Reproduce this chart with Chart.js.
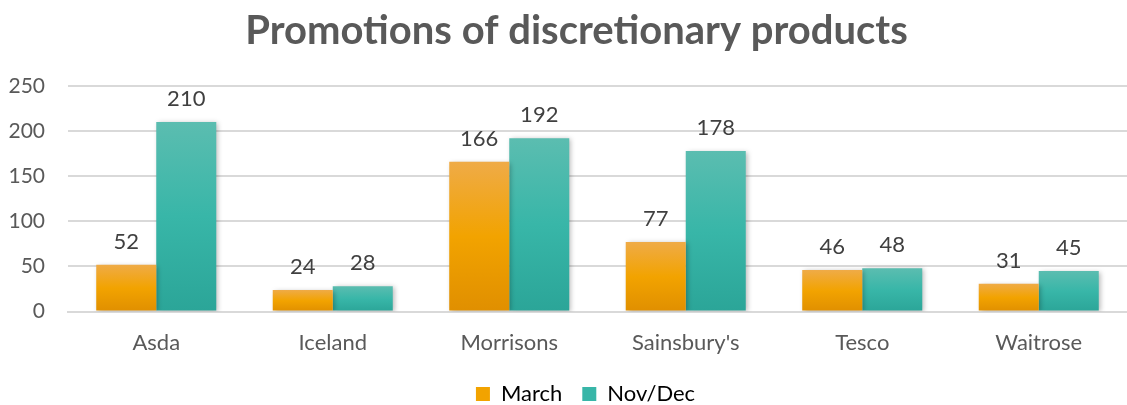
<!DOCTYPE html>
<html>
<head>
<meta charset="utf-8">
<script src="https://cdn.jsdelivr.net/npm/chart.js@4.4.1/dist/chart.umd.min.js"></script>
<style>
  html, body { margin: 0; padding: 0; background: #fff; }
  #wrap { width: 1127px; height: 405px; overflow: hidden; }
</style>
</head>
<body>
<div id="wrap"><canvas id="chart"></canvas></div>
<script>
/* ===== Promotions chart ===== */

const stores = ['Asda', 'Iceland', 'Morrisons', "Sainsbury's", 'Tesco', 'Waitrose'];
const marchValues = [52, 24, 166, 77, 46, 31];
const novDecValues = [210, 28, 192, 178, 48, 45];
const yTicks = [0, 50, 100, 150, 200, 250];

// colour stops top -> middle -> bottom
const orangeStops = ['#efab47', '#f2a300', '#e08f00'];
const tealStops = ['#5bbdb0', '#38b6a8', '#2ba598'];

function barGradient(stops) {
    return (ctx) => {
        const chart = ctx.chart;
        if (!chart.chartArea || ctx.parsed == null) return stops[1];
        const y = chart.scales.y;
        const top = y.getPixelForValue(ctx.parsed.y);
        const bottom = y.getPixelForValue(0);
        if (!(bottom > top)) return stops[1];
        const g = chart.ctx.createLinearGradient(0, top, 0, bottom);
        g.addColorStop(0, stops[0]);
        g.addColorStop(0.5, stops[1]);
        g.addColorStop(1, stops[2]);
        return g;
    };
}

// draws value above every bar
const valueLabels = {
    id: 'valueLabels',
    afterDatasetsDraw(chart) {
        const ctx = chart.ctx;
        ctx.save();
        ctx.font = '22px Lato';
        ctx.fillStyle = '#404040';
        ctx.textAlign = 'center';
        ctx.textBaseline = 'bottom';
        chart.data.datasets.forEach((ds, i) => {
            chart.getDatasetMeta(i).data.forEach((bar, j) => {
                ctx.fillText(String(ds.data[j]), bar.x, bar.y - 12);
            });
        });
        ctx.restore();
    }
};

// soft shadow behind bars
const barShadow = {
    id: 'barShadow',
    beforeDatasetsDraw(chart) {
        const ctx = chart.ctx;
        ctx.save();
        ctx.shadowColor = 'rgba(0,0,0,0.28)';
        ctx.shadowBlur = 5;
        ctx.shadowOffsetX = 2;
        ctx.shadowOffsetY = 1;
    },
    afterDatasetsDraw(chart) {
        chart.ctx.restore();
    }
};

// nudge title and legend to where the original had them
const blockShift = {
    id: 'blockShift',
    afterLayout(chart) {
        const l = chart.legend;
        if (l) {
            l.left += 22; l.right += 22;
            l.top += 4; l.bottom += 4;
        }
        const t = chart.titleBlock;
        if (t) { t.left += 13; t.right += 13; }
    }
};

new Chart(document.getElementById('chart'), {
    type: 'bar',
    data: {
        labels: stores,
        datasets: [
            { label: 'March', data: marchValues, backgroundColor: barGradient(orangeStops) },
            { label: 'Nov/Dec', data: novDecValues, backgroundColor: barGradient(tealStops) }
        ]
    },
    options: {
        responsive: true,
        maintainAspectRatio: false,
        animation: false,
        categoryPercentage: 0.68,
        barPercentage: 1.0,
        layout: { padding: { left: 0, right: 0, top: 7, bottom: 0 } },
        plugins: {
            title: {
                display: true,
                text: 'Promotions of discretionary products',
                color: '#595959',
                font: { family: 'Lato', size: 40, weight: 'bold' },
                padding: { top: 0, bottom: 31 }
            },
            legend: {
                position: 'bottom',
                maxHeight: 46,
                labels: {
                    color: '#595959',
                    font: { family: 'Lato', size: 22 },
                    boxWidth: 14,
                    boxHeight: 14,
                    padding: 20,
                    generateLabels: (chart) => chart.data.datasets.map((ds, i) => ({
                        text: ds.label,
                        fillStyle: i === 0 ? orangeStops[1] : tealStops[1],
                        strokeStyle: 'transparent',
                        lineWidth: 0,
                        datasetIndex: i
                    }))
                }
            },
            tooltip: { enabled: false }
        },
        scales: {
            x: {
                grid: { display: false },
                border: { color: '#d9d9d9', width: 2 },
                afterFit: (scale) => { scale.height -= 7; },
                ticks: { color: '#595959', font: { family: 'Lato', size: 22 }, padding: 10 }
            },
            y: {
                min: 0,
                max: 250,
                afterBuildTicks: (scale) => { scale.ticks = yTicks.map(v => ({ value: v })); },
                afterFit: (scale) => { scale.width = 68; },
                grid: { color: '#d9d9d9', lineWidth: 2, drawTicks: false },
                border: { display: false },
                ticks: { color: '#595959', font: { family: 'Lato', size: 21 }, padding: 23 }
            }
        }
    },
    plugins: [barShadow, valueLabels, blockShift]
});
</script>
</body>
</html>
